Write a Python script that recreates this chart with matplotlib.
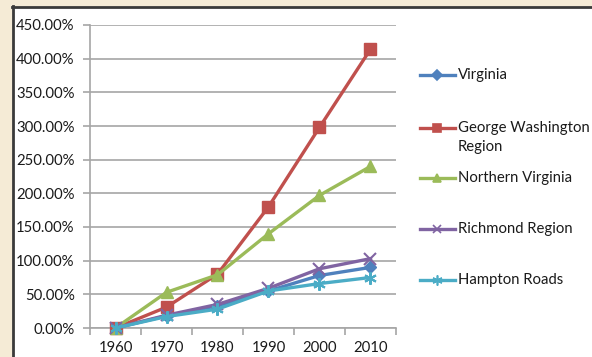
import matplotlib.pyplot as plt
from matplotlib.lines import Line2D
from matplotlib.patches import Rectangle
from matplotlib.ticker import FuncFormatter, FixedLocator

plt.rcParams['font.family'] = ['Lato', 'DejaVu Sans']

years = ['1960', '1970', '1980', '1990', '2000', '2010']
virginia = [0, 18, 33, 55, 78, 90]
george_washington = [0, 31, 80, 180, 298, 414]
northern_virginia = [0, 53, 79, 140, 197, 240]
richmond = [0, 19, 35, 59, 88, 103]
hampton_roads = [0, 17, 28, 55, 66, 75]

series = [
    ('Virginia', virginia, '#4F81BD', 'D', 6),
    ('George Washington\nRegion', george_washington, '#C0504D', 's', 8),
    ('Northern Virginia', northern_virginia, '#9BBB59', '^', 8),
    ('Richmond Region', richmond, '#8064A2', 'x', 8),
    ('Hampton Roads', hampton_roads, '#4BACC6', (6, 2, 0), 9),
]

W, H = 592, 357
FS = 10.7
fig = plt.figure(figsize=(W / 100, H / 100), dpi=100)
fig.patch.set_facecolor('#F5EBD6')

# white chart panel with dark frame on left/top
fig.add_artist(Rectangle((13 / W, 0), 1, 1 - 7 / H, transform=fig.transFigure,
                         facecolor='white', edgecolor='none', zorder=0))
fig.add_artist(Line2D([13 / W, 13 / W], [0, 1 - 6 / H], transform=fig.transFigure,
                      color='#3a3a3a', lw=2))
fig.add_artist(Line2D([12 / W, 1], [1 - 7 / H, 1 - 7 / H], transform=fig.transFigure,
                      color='#3a3a3a', lw=2))

ax = fig.add_axes([90 / W, 1 - 328 / H, 306 / W, 303 / H])
ax.set_facecolor('none')

x = range(len(years))
for name, vals, color, marker, ms in series:
    ax.plot(x, vals, color=color, lw=2.4, marker=marker, markersize=ms,
            markeredgewidth=1.5 if marker in ('x',) or isinstance(marker, tuple) else 1,
            clip_on=False, zorder=3)

ax.set_xlim(-0.5, 5.5)
ax.set_ylim(0, 450)
ax.set_yticks(range(0, 451, 50))
ax.yaxis.set_major_formatter(FuncFormatter(lambda v, p: f'{v:.2f}%'))
ax.yaxis.grid(True, color='#A6A6A6', lw=1.2)
ax.set_axisbelow(True)

ax.set_xticks(list(x))
ax.set_xticklabels(years)
ax.xaxis.set_minor_locator(FixedLocator([i - 0.5 for i in range(len(years) + 1)]))
ax.tick_params(axis='x', which='major', length=0, pad=9.5, labelsize=FS, labelcolor='#1a1a1a')
ax.tick_params(axis='x', which='minor', length=5, width=1.2, color='#A6A6A6', direction='out')
ax.tick_params(axis='y', length=5, width=1.2, color='#A6A6A6', pad=6,
               labelsize=FS, labelcolor='#1a1a1a')

for s in ['top', 'right']:
    ax.spines[s].set_visible(False)
ax.spines['left'].set_color('#A6A6A6')
ax.spines['bottom'].set_color('#A6A6A6')
ax.spines['left'].set_linewidth(1.2)
ax.spines['bottom'].set_linewidth(1.2)

# legend drawn manually to follow the original layout
leg_y = [75, 128, 178, 229, 280]
for (name, vals, color, marker, ms), yp in zip(series, leg_y):
    yf = 1 - yp / H
    fig.add_artist(Line2D([420 / W, 437 / W, 455 / W], [yf, yf, yf],
                          transform=fig.transFigure, color=color, lw=2.4,
                          marker=marker, markersize=ms * 0.8, markevery=[1],
                          markeredgewidth=1.2))
    fig.text(458 / W, 1 - (yp - 7) / H, name, ha='left', va='top',
             fontsize=FS, color='#1a1a1a', linespacing=1.5)

fig.savefig('out.png', dpi=100)
